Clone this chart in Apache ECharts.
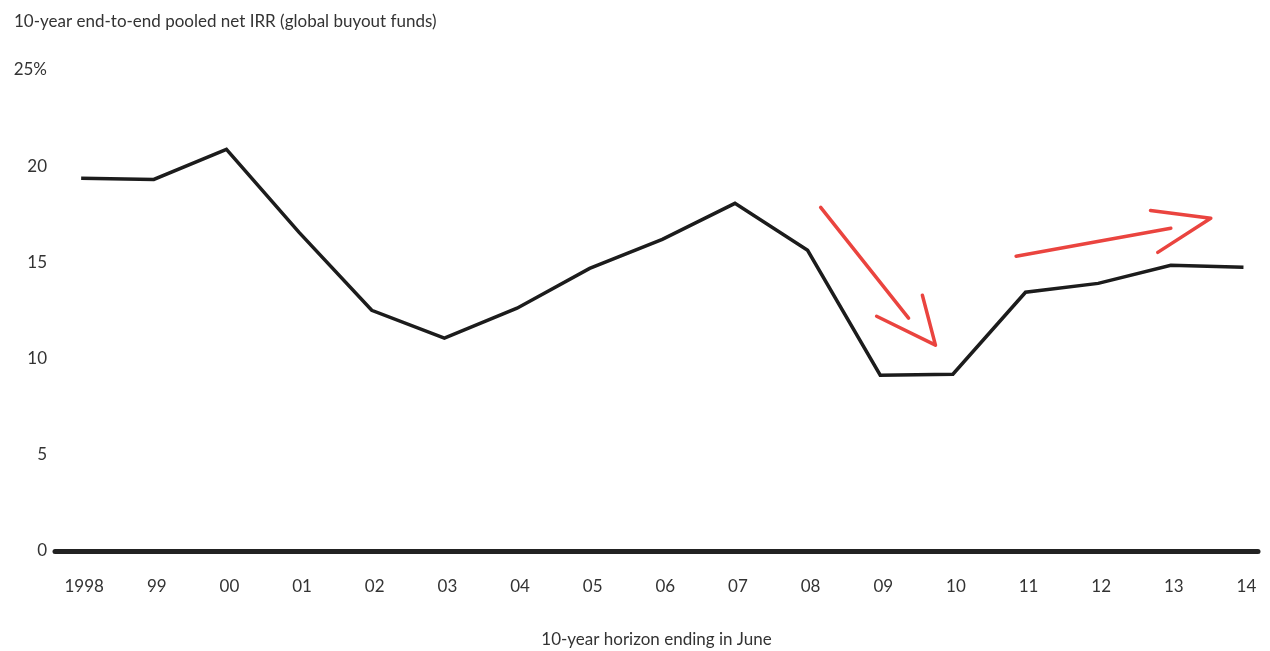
<!DOCTYPE html>
<html><head><meta charset="utf-8">
<script src="https://cdn.jsdelivr.net/npm/echarts@6/dist/echarts.min.js"></script>
<style>html,body{margin:0;padding:0;background:#fff;overflow:hidden}#c{width:1270px;height:651px}</style>
</head><body><div id="c"></div>
<script>
const categories = ['1998','99','00','01','02','03','04','05','06','07','08','09','10','11','12','13','14'];
const irrValues = [19.37,19.31,20.87,16.56,12.51,11.06,12.62,14.69,16.2,18.07,15.63,9.14,9.19,13.45,13.91,14.85,14.75];
const yTicks = [0,5,10,15,20,25];
// hand-drawn annotation arrows, in data coordinates [x index, value]
const arrowDownShaft = [[10.18,17.86],[11.39,12.1]];
const arrowDownHead = [[10.95,12.2],[11.76,10.7],[11.58,13.29]];
const arrowUpShaft = [[12.87,15.32],[15.0,16.77]];
const arrowUpHead = [[14.72,17.7],[15.55,17.29],[14.82,15.52]];

const font = 'Lato, "Noto Sans", sans-serif';
const chart = echarts.init(document.getElementById('c'), null, {width:1270, height:651});
const red = '#e8302a';
function arrowSeries(d){
  return {type:'line',data:d,symbol:'none',silent:true,z:3,
    lineStyle:{color:red,width:3.5,cap:'round',join:'round',opacity:0.9}};
}
chart.setOption({
  animation:false,
  title:{text:'10-year end-to-end pooled net IRR (global buyout funds)',left:9,top:8,
    textStyle:{fontFamily:font,fontWeight:'normal',fontSize:17,color:'#333'}},
  grid:{left:55,right:12,top:70,bottom:100,containLabel:false,outerBoundsMode:'none'},
  xAxis:{type:'value',min:-0.36,max:16.2,
    name:'10-year horizon ending in June',nameLocation:'middle',nameGap:80,
    nameTextStyle:{fontFamily:font,fontSize:17,color:'#333'},
    axisLine:{show:true,onZero:true,lineStyle:{color:'#222',width:5}},
    axisTick:{show:false},splitLine:{show:false},
    axisLabel:{customValues:categories.map((c,i)=>i),formatter:v=>categories[Math.round(v)],
      margin:27,padding:[0,0,0,6],fontFamily:font,fontSize:17,color:'#333'}},
  yAxis:{type:'value',min:0,max:25,interval:5,
    axisLine:{show:false},axisTick:{show:false},splitLine:{show:false},
    axisLabel:{margin:8,fontFamily:font,fontSize:17,color:'#333',
      formatter:v=>v===yTicks[yTicks.length-1]?v+'%':String(v)}},
  series:[
    {type:'line',data:irrValues.map((v,i)=>[i,v]),symbol:'none',z:4,
      lineStyle:{color:'#1c1c1c',width:3.5,join:'miter'}},
    arrowSeries(arrowDownShaft),arrowSeries(arrowDownHead),
    arrowSeries(arrowUpShaft),arrowSeries(arrowUpHead)
  ]
});
</script></body></html>
